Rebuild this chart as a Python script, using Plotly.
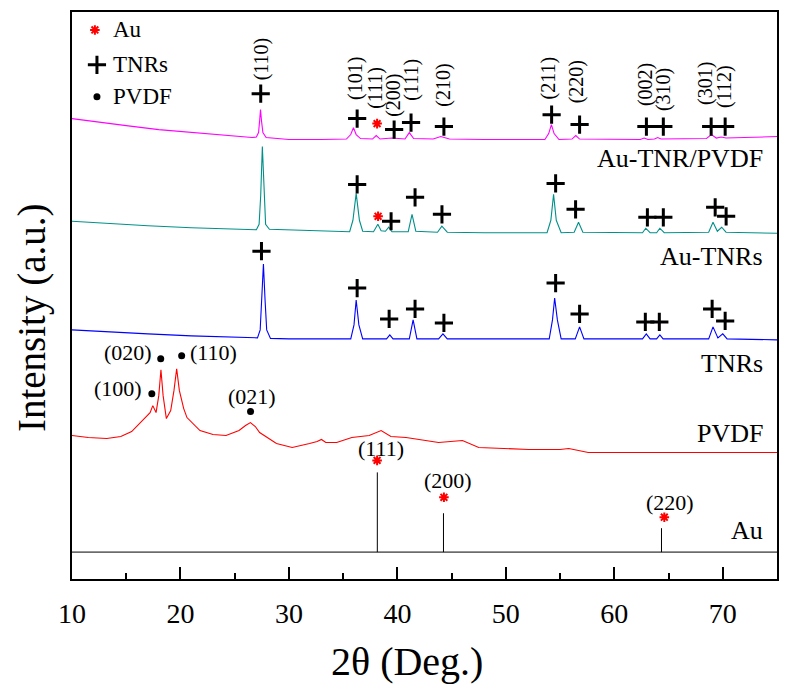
import plotly.graph_objects as go

# ---------------- data ----------------
# Au-TNR/PVDF (magenta)
atp_x = [10, 12, 15, 18, 21, 24, 26.6, 27.0, 27.2, 27.3, 27.38, 27.47, 27.6, 27.9, 30, 33, 35.3, 35.7, 35.95,
         36.2, 36.6, 37.7, 38.05, 38.4, 39.5, 40.7, 41.1, 41.5, 43.3, 44.0, 44.8, 48, 53.6, 53.95, 54.2, 54.45,
         54.9, 56.1, 56.45, 56.8, 62.4, 62.75, 63.1, 63.7, 64.0, 64.3, 68.5, 68.95, 69.4, 69.85, 70.3, 72, 75]
atp_y = [462, 459, 455, 451, 448, 445, 443, 443.5, 448, 460, 471, 460, 448, 443, 441, 441, 441.5, 446, 453,
         446, 442, 441.5, 445, 441.5, 442.5, 441.5, 448, 442, 441.5, 444, 441.5, 441, 441, 447, 456, 447,
         441, 441.5, 445, 441.5, 441, 442.5, 441, 441.5, 443, 441.5, 442, 446, 442.5, 443.5, 442.5, 443, 444]

# Au-TNRs (teal)
at_x = [10, 13, 17, 21, 25, 27.0, 27.25, 27.4, 27.55, 27.7, 27.85, 28.2, 30, 33, 35.6, 35.9, 36.2, 36.5, 36.8,
        37.8, 38.2, 38.5, 38.9, 39.2, 39.5, 41.0, 41.35, 41.7, 43.7, 44.1, 44.6, 48, 53.8, 54.15, 54.4, 54.65,
        55.1, 56.3, 56.7, 57.1, 62.6, 62.9, 63.3, 63.9, 64.2, 64.6, 68.7, 69.1, 69.5, 69.9, 70.3, 75]
at_y = [359, 357, 354.5, 352.5, 351, 350.5, 356, 385, 434, 385, 356, 351, 350.5, 349, 348.5, 360, 387, 360, 349,
        348.5, 356, 349.5, 349, 353, 348.5, 348.5, 366, 349, 348, 354, 348, 347.5, 347.5, 360, 386, 360,
        347.5, 348, 358, 348, 347.5, 352, 347.5, 347.5, 352, 347.5, 348, 358, 349, 353, 348, 347]

# TNRs (blue)
t_x = [10, 13, 17, 21, 25, 27.1, 27.35, 27.5, 27.65, 27.8, 27.95, 28.3, 30, 35.7, 36.0, 36.2, 36.45, 36.8,
       39.0, 39.3, 39.6, 41.1, 41.45, 41.8, 43.8, 44.2, 44.6, 48, 54.0, 54.3, 54.5, 54.75, 55.1, 56.4, 56.8,
       57.2, 62.6, 62.95, 63.3, 63.9, 64.2, 64.5, 68.7, 69.1, 69.55, 70.0, 70.4, 75]
t_y = [250, 248, 246, 244, 242.5, 242, 250, 280, 316, 280, 250, 241.5, 241, 241, 255, 280, 255, 241,
       241, 245, 241, 241, 260, 241, 241, 246, 241, 241, 241, 260, 282, 260, 241, 241, 253,
       241, 241, 246, 241, 241, 245, 241, 241, 253, 242, 246, 241, 240]

# PVDF (red)
p_x = [10, 11.5, 13.2, 14.5, 15.5, 16.5, 17.2, 17.45, 17.75, 18.0, 18.2, 18.4, 18.7, 19.1, 19.4, 19.65, 19.9,
       20.3, 20.6, 21.8, 23, 24.2, 25.4, 26.0, 26.45, 26.9, 27.3, 28.85, 30.3, 31.9, 32.6, 33.0, 33.4, 34.4,
       35.8, 37.4, 38.5, 39.4, 40.8, 43.8, 46.0, 47.5, 50, 52.1, 55.0, 55.8, 57.6, 62, 75]
p_y = [144, 142, 141, 143, 148, 159, 167, 174, 167, 184, 210, 184, 161, 169, 189, 211, 189,
       171, 162, 149, 145, 144, 149, 154, 157, 153, 147, 136, 132, 136, 138, 140, 137, 137,
       142, 144, 149, 143, 142, 137, 139, 132, 131, 130, 130, 131, 127, 127, 127]

# Au reference pattern (sticks)
au_base = 27
au_pos = [38.15, 44.25, 64.35]
au_top = [107, 66, 51]
au_hkl = ["(111)", "(200)", "(220)"]
au_lab_x = [38.50, 44.66, 65.16]
au_lab_y = [131, 99, 77]
au_star_x = [38.13, 44.29, 64.61]
au_star_y = [119, 82, 62]

# peak markers
atp_plus_x = [27.4, 36.29, 39.70, 41.26, 44.29, 54.22, 56.80, 62.96, 64.52, 68.93, 70.22]
atp_plus_y = [487, 462, 451, 458, 454, 466, 456, 454, 454, 454, 454]
atp_star = (38.13, 457)
atp_hkl = ["(110)", "(101)", "(111)", "(200)", "(111)", "(210)", "(211)", "(220)", "(002)", "(310)", "(301)", "(112)"]
atp_hkl_x = [27.47, 36.20, 38.04, 39.70, 41.35, 44.29, 53.95, 56.52, 62.86, 64.52, 68.47, 70.22]
atp_hkl_y = [522, 502, 493, 485, 501, 496, 503, 499, 496, 491, 497, 494]

at_plus_x = [36.29, 39.42, 41.63, 44.11, 54.59, 56.43, 63.05, 64.52, 69.30, 70.31]
at_plus_y = [396, 359, 383, 366, 397, 371, 363, 363, 373, 364]
at_star = (38.22, 364)

t_plus_x = [27.47, 36.29, 39.24, 41.63, 44.29, 54.59, 56.80, 62.86, 64.15, 69.02, 70.22]
t_plus_y = [329, 292, 261, 271, 257, 297, 266, 258, 258, 271, 259]

p_dot_x = [17.36, 18.18, 20.11, 26.46]
p_dot_y = [186, 221, 224, 168]
p_hkl = ["(100)", "(020)", "(110)", "(021)"]
p_hkl_x = [14.23, 15.15, 23.05, 26.55]
p_hkl_y = [191, 227, 227, 183]

series_names = ["Au-TNR/PVDF", "Au-TNRs", "TNRs", "PVDF", "Au"]
series_lab_y = [422, 324, 216, 146, 49]

legend_names = ["Au", "TNRs", "PVDF"]
legend_y = [551, 516, 484]

x_ticks = [10, 20, 30, 40, 50, 60, 70]

# ---------------- figure ----------------
SERIF = "Liberation Serif, Times New Roman, serif"
fig = go.Figure()

def line(x, y, color, w=1.1):
    fig.add_trace(go.Scatter(x=x, y=y, mode="lines", line=dict(color=color, width=w),
                             hoverinfo="skip", showlegend=False, cliponaxis=False))

line(atp_x, atp_y, "#FF00FF")
line(at_x, at_y, "#00908A")
line(t_x, t_y, "#0000FF")
line(p_x, p_y, "#FF0000")

# Au sticks and baseline
line([10, 75], [au_base, au_base], "black", 1)
for xp, yt in zip(au_pos, au_top):
    line([xp, xp], [au_base, yt], "black", 1)

def plus(xs, ys):
    fig.add_trace(go.Scatter(x=xs, y=ys, mode="markers", hoverinfo="skip", showlegend=False,
                             marker=dict(symbol="cross-thin", size=13, color="black",
                                         line=dict(color="black", width=3))))

def star(xs, ys):
    fig.add_trace(go.Scatter(x=xs, y=ys, mode="markers", hoverinfo="skip", showlegend=False,
                             marker=dict(symbol="asterisk", size=8, color="red",
                                         line=dict(color="red", width=2))))

def dot(xs, ys):
    fig.add_trace(go.Scatter(x=xs, y=ys, mode="markers", hoverinfo="skip", showlegend=False,
                             marker=dict(symbol="circle", size=7, color="black")))

plus(atp_plus_x, atp_plus_y)
star([atp_star[0]], [atp_star[1]])
plus(at_plus_x, at_plus_y)
star([at_star[0]], [at_star[1]])
plus(t_plus_x, t_plus_y)
dot(p_dot_x, p_dot_y)
star(au_star_x, au_star_y)

# legend symbols (top-left)
star([12.11], [legend_y[0]])
plus([12.30], [legend_y[1]])
dot([12.30], [legend_y[2]])

ann = []
for name, yy in zip(legend_names, legend_y):
    ann.append(dict(x=13.6, y=yy, text=name, xanchor="left", yanchor="middle", showarrow=False,
                    font=dict(family=SERIF, size=23, color="black")))

for t, xx, yy in zip(atp_hkl, atp_hkl_x, atp_hkl_y):
    ann.append(dict(x=xx, y=yy, text=t, textangle=-90, showarrow=False, xanchor="center", yanchor="middle",
                    font=dict(family=SERIF, size=20, color="black")))

for t, xx, yy in zip(p_hkl, p_hkl_x, p_hkl_y):
    ann.append(dict(x=xx, y=yy, text=t, showarrow=False, xanchor="center", yanchor="middle",
                    font=dict(family=SERIF, size=22, color="black")))

for t, xx, yy in zip(au_hkl, au_lab_x, au_lab_y):
    ann.append(dict(x=xx, y=yy, text=t, showarrow=False, xanchor="center", yanchor="middle",
                    font=dict(family=SERIF, size=22, color="black")))

for t, yy in zip(series_names, series_lab_y):
    ann.append(dict(x=73.9, y=yy, text=t, showarrow=False, xanchor="right", yanchor="middle",
                    font=dict(family=SERIF, size=26, color="black")))

# plot area in the reference: x 72..779, y 10..579 (page px). The page body adds an 8px offset.
PL, PT, PW, PH = 64, 2, 707, 569
ann.append(dict(x=(408 - 72) / PW, xref="paper", y=-(662 - 579) / PH, yref="paper", text="2θ (Deg.)",
                showarrow=False, xanchor="center", yanchor="middle",
                font=dict(family=SERIF, size=40, color="black")))
ann.append(dict(x=-(72 - 32) / PW, xref="paper", y=(579 - 317) / PH, yref="paper",
                text="Intensity (a.u.)", textangle=-90, showarrow=False,
                xanchor="center", yanchor="middle", font=dict(family=SERIF, size=39, color="black")))

fig.update_layout(
    width=773, height=676,
    margin=dict(l=PL, r=773 - PL - PW, t=PT, b=676 - PT - PH),
    paper_bgcolor="white", plot_bgcolor="white",
    showlegend=False,
    annotations=ann,
    xaxis=dict(range=[10, 75], tickvals=x_ticks, ticktext=[str(v) for v in x_ticks],
               ticks="inside", ticklen=12, tickwidth=1.5, tickcolor="black",
               minor=dict(ticks="inside", ticklen=6, tickwidth=1.5, tickcolor="black",
                          tickvals=[15, 25, 35, 45, 55, 65], showgrid=False),
               showline=True, linecolor="black", linewidth=2, mirror=True,
               showgrid=False, zeroline=False, ticklabelstandoff=8,
               tickfont=dict(family=SERIF, size=28, color="black")),
    yaxis=dict(range=[0, 569], showticklabels=False, ticks="", showgrid=False, zeroline=False,
               showline=True, linecolor="black", linewidth=2, mirror=True),
)

fig.write_html("out.html")
